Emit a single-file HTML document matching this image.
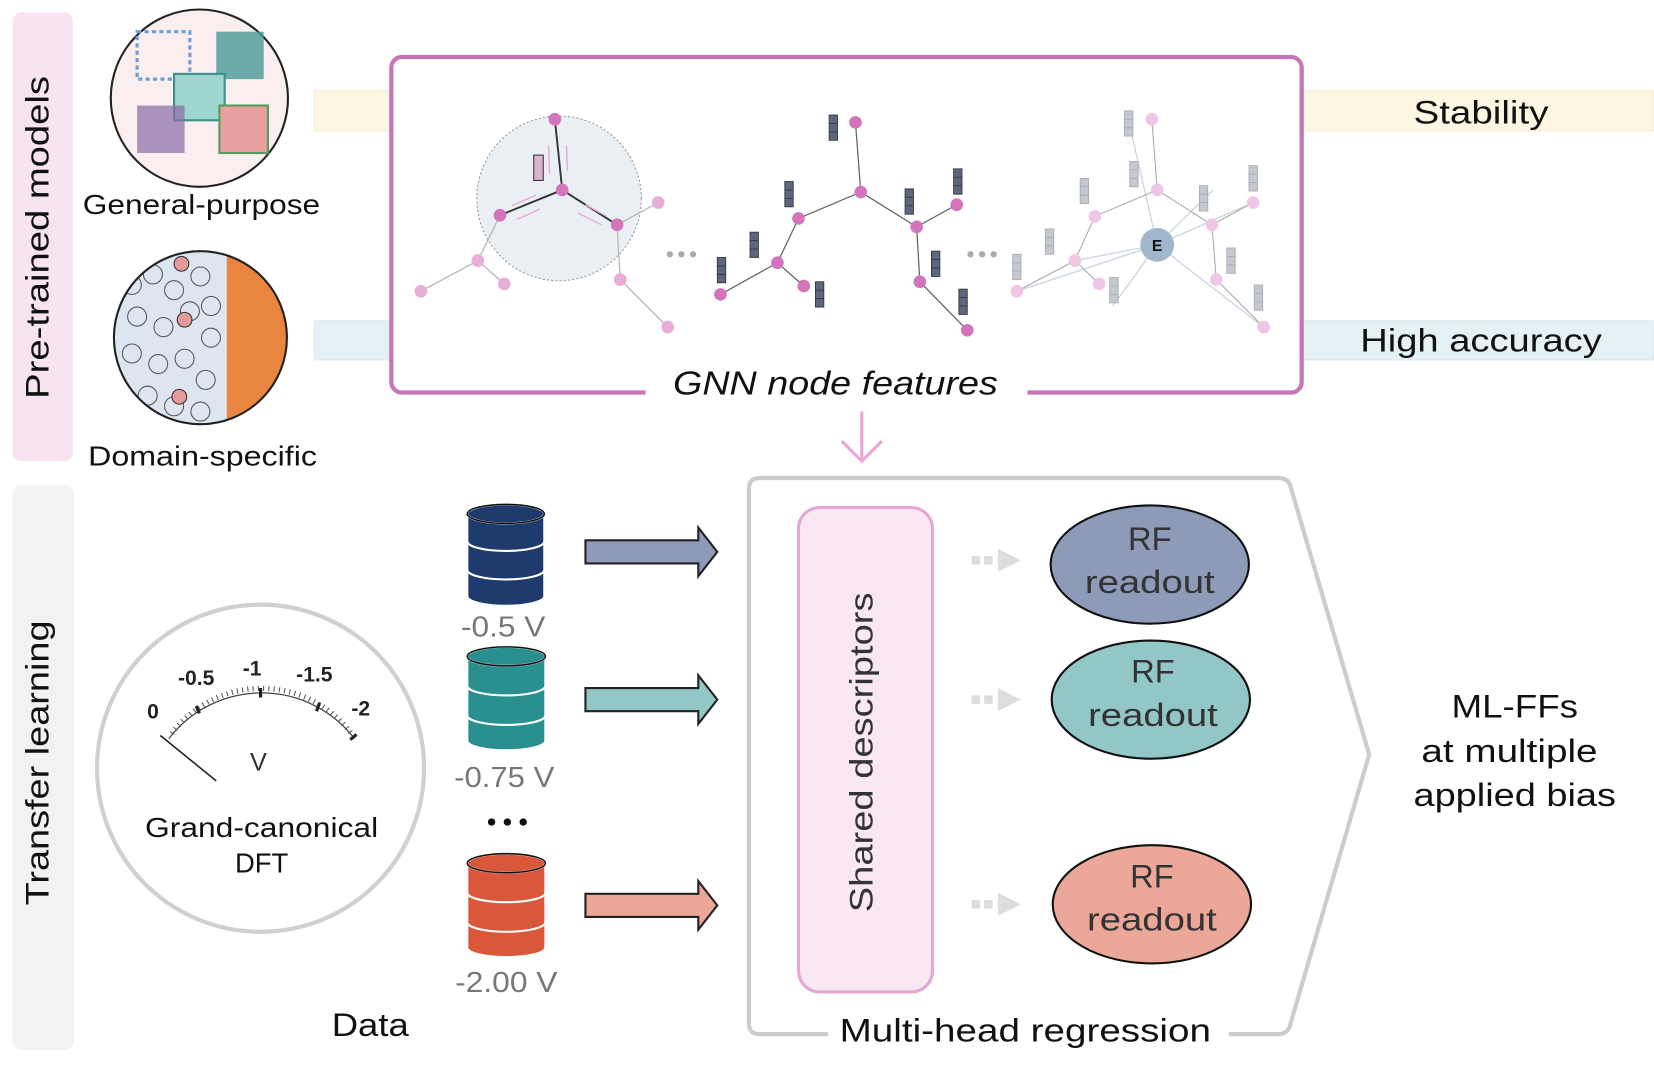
<!DOCTYPE html>
<html><head><meta charset="utf-8"><style>
html,body{margin:0;padding:0;background:#fff}
svg{display:block}
text{font-family:"Liberation Sans","DejaVu Sans",sans-serif}
</style></head><body>
<svg width="1654" height="1070" viewBox="0 0 1568 1014" preserveAspectRatio="none" xmlns="http://www.w3.org/2000/svg">
<defs>
<g id="bar"><rect x="-4" y="-12" width="8" height="24" fill="#5b6780" stroke="#333" stroke-width="0.8"/><line x1="-4" y1="-4" x2="4" y2="-4" stroke="#333" stroke-width="0.8"/><line x1="-4" y1="4" x2="4" y2="4" stroke="#333" stroke-width="0.8"/></g>
<g id="lbar"><rect x="-4" y="-12" width="8" height="24" fill="#c4c8d0" stroke="#aaa" stroke-width="0.8"/><line x1="-4" y1="-4" x2="4" y2="-4" stroke="#aaa" stroke-width="0.8"/><line x1="-4" y1="4" x2="4" y2="4" stroke="#aaa" stroke-width="0.8"/></g>
</defs>
<rect x="12" y="12" width="57" height="425" rx="8" fill="#f8e3f1"/>
<text transform="translate(46,225) rotate(-90)" text-anchor="middle" font-size="31" fill="#111" textLength="306" lengthAdjust="spacingAndGlyphs">Pre-trained models</text>
<rect x="12" y="460" width="58" height="535" rx="8" fill="#f2f2f2"/>
<text transform="translate(46,723) rotate(-90)" text-anchor="middle" font-size="31" fill="#111" textLength="270" lengthAdjust="spacingAndGlyphs">Transfer learning</text>
<rect x="298" y="86" width="1270" height="38" fill="#fdf6e2" stroke="#f0ead8"/>
<rect x="298" y="304" width="1270" height="37" fill="#e5f2f5" stroke="#d8e8ec"/>
<text x="1404" y="117" text-anchor="middle" font-size="31" fill="#111" textLength="128" lengthAdjust="spacingAndGlyphs">Stability</text>
<text x="1404" y="333" text-anchor="middle" font-size="31" fill="#111" textLength="229" lengthAdjust="spacingAndGlyphs">High accuracy</text>
<circle cx="189" cy="93" r="84" fill="#fbeeee" stroke="#222" stroke-width="2"/>
<rect x="130" y="30" width="50" height="45" fill="none" stroke="#6aa0d8" stroke-width="3" stroke-dasharray="4 3"/>
<rect x="205" y="30" width="45" height="45" fill="#4a9a9a" opacity="0.8"/>
<rect x="165" y="70" width="48" height="44" fill="#9fd6cf" stroke="#3b8f8a" stroke-width="2"/>
<rect x="130" y="100" width="45" height="45" fill="#8a6aa6" opacity="0.7"/>
<rect x="208" y="100" width="46" height="45" fill="#e8a0a0" stroke="#5a9a5a" stroke-width="2"/>
<text x="191" y="203" text-anchor="middle" font-size="26" fill="#111" textLength="225" lengthAdjust="spacingAndGlyphs">General-purpose</text>
<clipPath id="dc"><circle cx="190" cy="320" r="82"/></clipPath>
<g clip-path="url(#dc)">
<rect x="100" y="230" width="180" height="180" fill="#dde6f0"/>
<rect x="215" y="230" width="70" height="180" fill="#e8853e"/>
<g fill="none" stroke="#555" stroke-width="1">
<circle cx="125" cy="270" r="9"/><circle cx="145" cy="260" r="9"/><circle cx="165" cy="275" r="9"/><circle cx="190" cy="262" r="9"/><circle cx="130" cy="300" r="9"/><circle cx="155" cy="310" r="9"/><circle cx="180" cy="295" r="9"/><circle cx="200" cy="320" r="9"/><circle cx="125" cy="335" r="9"/><circle cx="150" cy="345" r="9"/><circle cx="175" cy="340" r="9"/><circle cx="195" cy="360" r="9"/><circle cx="140" cy="375" r="9"/><circle cx="165" cy="385" r="9"/><circle cx="200" cy="290" r="9"/><circle cx="190" cy="390" r="9"/>
</g>
<circle cx="172" cy="250" r="7" fill="#e59a9a" stroke="#333"/><circle cx="175" cy="303" r="7" fill="#e59a9a" stroke="#333"/><circle cx="170" cy="376" r="7" fill="#e59a9a" stroke="#333"/>
</g>
<circle cx="190" cy="320" r="82" fill="none" stroke="#222" stroke-width="2"/>
<text x="192" y="441" text-anchor="middle" font-size="26" fill="#111" textLength="217" lengthAdjust="spacingAndGlyphs">Domain-specific</text>
<rect x="371" y="54" width="863" height="318" rx="10" fill="#fff" stroke="#c874b9" stroke-width="4"/>
<rect x="612" y="362" width="362" height="16" fill="#fff"/>
<text x="792" y="374" text-anchor="middle" font-size="32" font-style="italic" fill="#111" textLength="308" lengthAdjust="spacingAndGlyphs">GNN node features</text>
<circle cx="530" cy="188" r="78" fill="#eaeff3" stroke="#999" stroke-dasharray="2 2"/>
<g stroke="#bbb" stroke-width="1.3"><line x1="453" y1="247" x2="399" y2="276"/><line x1="453" y1="247" x2="478" y2="269"/><line x1="474" y1="204" x2="453" y2="247"/><line x1="585" y1="213" x2="624" y2="192"/><line x1="585" y1="213" x2="588" y2="265"/><line x1="588" y1="265" x2="633" y2="310"/></g>
<g stroke="#333" stroke-width="1.8"><line x1="533" y1="180" x2="526" y2="113"/><line x1="533" y1="180" x2="474" y2="204"/><line x1="533" y1="180" x2="585" y2="213"/></g>
<g stroke="#e7a9d8" stroke-width="1.3"><line x1="520" y1="138" x2="521" y2="165"/><line x1="537" y1="138" x2="538" y2="162"/><line x1="485" y1="195" x2="508" y2="185"/><line x1="490" y1="208" x2="512" y2="198"/><line x1="575" y1="205" x2="555" y2="194"/><line x1="570" y1="213" x2="548" y2="202"/></g>
<rect x="506" y="147" width="9" height="24" fill="#d9b3d0" stroke="#333"/>
<g fill="#d474bd"><circle cx="533" cy="180" r="6"/><circle cx="526" cy="113" r="6"/><circle cx="474" cy="204" r="6"/><circle cx="585" cy="213" r="6"/></g>
<g fill="#e7afd8"><circle cx="453" cy="247" r="6"/><circle cx="399" cy="276" r="6"/><circle cx="478" cy="269" r="6"/><circle cx="624" cy="192" r="6"/><circle cx="588" cy="265" r="6"/><circle cx="633" cy="310" r="6"/></g>
<g fill="#aaa"><circle cx="635" cy="241" r="3"/><circle cx="646" cy="241" r="3"/><circle cx="657" cy="241" r="3"/><circle cx="920" cy="241" r="3"/><circle cx="931" cy="241" r="3"/><circle cx="942" cy="241" r="3"/></g>
<g stroke="#666" stroke-width="1.2"><line x1="816" y1="182" x2="811" y2="116"/><line x1="816" y1="182" x2="757" y2="207"/><line x1="757" y1="207" x2="737" y2="249"/><line x1="737" y1="249" x2="683" y2="279"/><line x1="737" y1="249" x2="762" y2="271"/><line x1="816" y1="182" x2="869" y2="215"/><line x1="869" y1="215" x2="907" y2="194"/><line x1="869" y1="215" x2="872" y2="267"/><line x1="872" y1="267" x2="917" y2="313"/></g>
<g fill="#d474bd"><circle cx="816" cy="182" r="6"/><circle cx="811" cy="116" r="6"/><circle cx="757" cy="207" r="6"/><circle cx="737" cy="249" r="6"/><circle cx="683" cy="279" r="6"/><circle cx="762" cy="271" r="6"/><circle cx="869" cy="215" r="6"/><circle cx="907" cy="194" r="6"/><circle cx="872" cy="267" r="6"/><circle cx="917" cy="313" r="6"/></g>
<use href="#bar" x="790" y="121"/><use href="#bar" x="748" y="184"/><use href="#bar" x="715" y="232"/><use href="#bar" x="684" y="256"/><use href="#bar" x="777" y="279"/><use href="#bar" x="862" y="191"/><use href="#bar" x="908" y="172"/><use href="#bar" x="887" y="250"/><use href="#bar" x="913" y="286"/>
<g stroke="#c9d4e2" stroke-width="1.2"><line x1="1097" y1="232" x2="964" y2="276"/><line x1="1097" y1="232" x2="1019" y2="247"/><line x1="1097" y1="232" x2="1070" y2="115"/><line x1="1097" y1="232" x2="1188" y2="192"/><line x1="1097" y1="232" x2="1198" y2="310"/><line x1="1097" y1="232" x2="1055" y2="290"/><line x1="1097" y1="232" x2="1150" y2="180"/></g>
<g stroke="#aaa" stroke-width="1"><line x1="1097" y1="180" x2="1092" y2="113"/><line x1="1097" y1="180" x2="1038" y2="205"/><line x1="1038" y1="205" x2="1019" y2="247"/><line x1="1019" y1="247" x2="964" y2="276"/><line x1="1019" y1="247" x2="1042" y2="269"/><line x1="1097" y1="180" x2="1149" y2="213"/><line x1="1149" y1="213" x2="1188" y2="192"/><line x1="1149" y1="213" x2="1153" y2="265"/><line x1="1153" y1="265" x2="1198" y2="310"/></g>
<g fill="#f0c6e6"><circle cx="1097" cy="180" r="6"/><circle cx="1092" cy="113" r="6"/><circle cx="1038" cy="205" r="6"/><circle cx="1019" cy="247" r="6"/><circle cx="964" cy="276" r="6"/><circle cx="1042" cy="269" r="6"/><circle cx="1149" cy="213" r="6"/><circle cx="1188" cy="192" r="6"/><circle cx="1153" cy="265" r="6"/><circle cx="1198" cy="310" r="6"/></g>
<use href="#lbar" x="1070" y="117"/><use href="#lbar" x="1075" y="165"/><use href="#lbar" x="1028" y="181"/><use href="#lbar" x="995" y="229"/><use href="#lbar" x="964" y="253"/><use href="#lbar" x="1056" y="275"/><use href="#lbar" x="1141" y="188"/><use href="#lbar" x="1188" y="169"/><use href="#lbar" x="1167" y="247"/><use href="#lbar" x="1193" y="282"/>
<circle cx="1097" cy="232" r="16" fill="#9fb6cc"/>
<text x="1097" y="238" text-anchor="middle" font-size="15" font-weight="bold" fill="#111">E</text>
<g stroke="#e8a8d6" stroke-width="3" fill="none"><line x1="817" y1="390" x2="817" y2="436"/><polyline points="798,418 817,437 836,418"/></g>
<path d="M 720 453 L 1212 453 Q 1222 453 1224 463 L 1298 715 L 1224 968 Q 1222 980 1212 980 L 720 980 Q 710 980 710 970 L 710 463 Q 710 453 720 453 Z" fill="none" stroke="#ccc" stroke-width="4"/>
<rect x="785" y="966" width="380" height="20" fill="#fff"/>
<text x="972" y="987" text-anchor="middle" font-size="31" fill="#111" textLength="352" lengthAdjust="spacingAndGlyphs">Multi-head regression</text>
<rect x="757" y="481" width="127" height="459" rx="20" fill="#f9e8f3" stroke="#e5a8d6" stroke-width="3"/>
<text transform="translate(827,713) rotate(-90)" text-anchor="middle" font-size="31" fill="#333" textLength="303" lengthAdjust="spacingAndGlyphs">Shared descriptors</text>
<g fill="#ddd"><rect x="921" y="527" width="8" height="8"/><rect x="933" y="527" width="8" height="8"/><polygon points="946,520 968,531 946,542"/>
<rect x="921" y="659" width="8" height="8"/><rect x="933" y="659" width="8" height="8"/><polygon points="946,652 968,663 946,674"/>
<rect x="921" y="853" width="8" height="8"/><rect x="933" y="853" width="8" height="8"/><polygon points="946,846 968,857 946,868"/></g>
<ellipse cx="1090" cy="535" rx="94" ry="56" fill="#8d9ab8" stroke="#111" stroke-width="2"/>
<ellipse cx="1091" cy="663" rx="94" ry="56" fill="#93c6c6" stroke="#111" stroke-width="2"/>
<ellipse cx="1092" cy="857" rx="94" ry="56" fill="#eba898" stroke="#111" stroke-width="2"/>
<g font-size="31" fill="#333" text-anchor="middle">
<text x="1090" y="521">RF</text><text x="1090" y="562" textLength="123" lengthAdjust="spacingAndGlyphs">readout</text>
<text x="1093" y="647">RF</text><text x="1093" y="688" textLength="123" lengthAdjust="spacingAndGlyphs">readout</text>
<text x="1092" y="841">RF</text><text x="1092" y="882" textLength="123" lengthAdjust="spacingAndGlyphs">readout</text>
</g>
<g font-size="31" fill="#111" text-anchor="middle"><text x="1436" y="680" textLength="120" lengthAdjust="spacingAndGlyphs">ML-FFs</text><text x="1431" y="722" textLength="167" lengthAdjust="spacingAndGlyphs">at multiple</text><text x="1436" y="764" textLength="192" lengthAdjust="spacingAndGlyphs">applied bias</text></g>
<g stroke="#fff" stroke-width="2">
<path d="M443 487 v78 a36 9 0 0 0 73 0 v-78 z" fill="#1f3b6e"/><ellipse cx="479.5" cy="487" rx="36.5" ry="9" fill="#1f3b6e"/><path d="M443 513 a36 9 0 0 0 73 0 M443 540 a36 9 0 0 0 73 0" fill="none"/>
<path d="M443 622 v80 a37 9 0 0 0 74 0 v-80 z" fill="#2a8f8f"/><ellipse cx="480" cy="622" rx="37" ry="9" fill="#2a8f8f"/><path d="M443 650 a37 9 0 0 0 74 0 M443 678 a37 9 0 0 0 74 0" fill="none"/>
<path d="M443 818 v80 a37 9 0 0 0 74 0 v-80 z" fill="#d9573a"/><ellipse cx="480" cy="818" rx="37" ry="9" fill="#d9573a"/><path d="M443 846 a37 9 0 0 0 74 0 M443 874 a37 9 0 0 0 74 0" fill="none"/>
</g>
<g stroke="#111" stroke-width="1.5" fill="none"><ellipse cx="479.5" cy="487" rx="36.5" ry="9"/><ellipse cx="480" cy="622" rx="37" ry="9"/><ellipse cx="480" cy="818" rx="37" ry="9"/></g>
<g font-size="27" fill="#777" text-anchor="middle"><text x="477" y="603" textLength="80" lengthAdjust="spacingAndGlyphs">-0.5 V</text><text x="478" y="746" textLength="95" lengthAdjust="spacingAndGlyphs">-0.75 V</text><text x="480" y="940" textLength="97" lengthAdjust="spacingAndGlyphs">-2.00 V</text></g>
<g fill="#111"><circle cx="466" cy="779" r="3.5"/><circle cx="481" cy="779" r="3.5"/><circle cx="496" cy="779" r="3.5"/></g>
<polygon points="555,512 662,512 662,500 680,523 662,546 662,534 555,534" fill="#8d9ab8" stroke="#222" stroke-width="2"/>
<polygon points="555,652 662,652 662,640 680,663 662,686 662,674 555,674" fill="#93c6c6" stroke="#222" stroke-width="2"/>
<polygon points="555,847 662,847 662,835 680,858 662,881 662,869 555,869" fill="#eba898" stroke="#222" stroke-width="2"/>
<text x="351" y="982" text-anchor="middle" font-size="31" fill="#111" textLength="73" lengthAdjust="spacingAndGlyphs">Data</text>
<circle cx="247" cy="728" r="155" fill="#fff" stroke="#d0d0d0" stroke-width="4"/>
<path d="M 160 700 A 111 111 0 0 1 336 700" fill="none" stroke="#444" stroke-width="1.2"/>
<path d="M 163 695 A 106 106 0 0 1 333 695" fill="none" stroke="#555" stroke-width="5" stroke-dasharray="1 4"/>
<g stroke="#222" stroke-width="3"><line x1="186" y1="669" x2="189" y2="676"/><line x1="247" y1="652" x2="247" y2="661"/><line x1="303" y1="666" x2="300" y2="674"/><line x1="338" y1="696" x2="332" y2="701"/></g>
<line x1="152" y1="697" x2="205" y2="740" stroke="#222" stroke-width="1.5"/>
<g font-size="20" font-weight="bold" fill="#222" text-anchor="middle"><text x="145" y="681">0</text><text x="186" y="649">-0.5</text><text x="239" y="640">-1</text><text x="298" y="646">-1.5</text><text x="342" y="678">-2</text></g>
<text x="245" y="730" text-anchor="middle" font-size="24" fill="#333">V</text>
<text x="248" y="793" text-anchor="middle" font-size="26" fill="#111" textLength="221" lengthAdjust="spacingAndGlyphs">Grand-canonical</text>
<text x="248" y="827" text-anchor="middle" font-size="26" fill="#111">DFT</text>
</svg>
</body></html>
